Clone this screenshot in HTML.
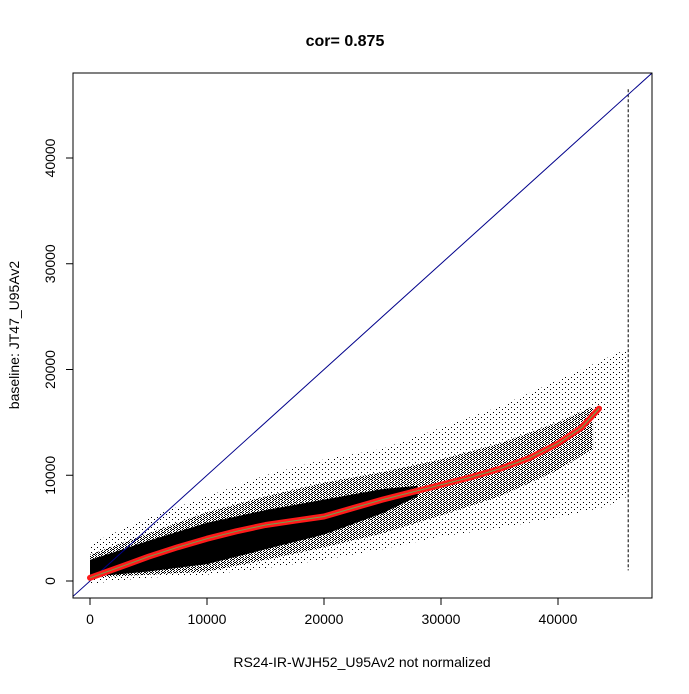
<!DOCTYPE html>
<html><head><meta charset="utf-8"><style>
html,body{margin:0;padding:0;background:#fff;}
svg text{font-family:"Liberation Sans",Arial,sans-serif;}
</style></head><body>
<svg id="chart" width="689" height="689" viewBox="0 0 689 689" xmlns="http://www.w3.org/2000/svg">
<defs>
<pattern id="sparse" width="6" height="5" patternUnits="userSpaceOnUse"><rect x="1" y="2" width="1" height="1" fill="#000"/><rect x="4" y="4" width="1" height="1" fill="#000"/></pattern>
<pattern id="medium" width="3" height="2" patternUnits="userSpaceOnUse"><rect x="0" y="0" width="1" height="1" fill="#000"/><rect x="2" y="1" width="1" height="1" fill="#000"/></pattern>
<clipPath id="plotclip"><rect x="73" y="73" width="579" height="525"/></clipPath>
</defs>
<rect x="0" y="0" width="689" height="689" fill="#fff"/>
<text x="345" y="46" text-anchor="middle" font-size="16" font-weight="bold">cor= 0.875</text>
<g id="marks" clip-path="url(#plotclip)"></g>
<g id="axes"></g>
<rect x="73" y="73" width="579" height="525" fill="none" stroke="#000" stroke-width="1"/>
<text x="362" y="667" text-anchor="middle" font-size="14">RS24-IR-WJH52_U95Av2 not normalized</text>
<text transform="translate(19,335) rotate(-90)" text-anchor="middle" font-size="14">baseline: JT47_U95Av2</text>
</svg>
<script>
const sparseX = [0, 2000, 5000, 10000, 15000, 20000, 25000, 30000, 35000, 40000, 44000, 46000];
const sparseLow = [-300, 0, 300, 600, 1200, 2000, 3000, 4200, 5000, 6000, 7000, 8000];
const sparseHigh = [3500, 4500, 6000, 8000, 10000, 11500, 12500, 14500, 16500, 19000, 21000, 22000];
const mediumX = [0, 5000, 10000, 15000, 20000, 25000, 30000, 35000, 40000, 43000];
const mediumLow = [300, 600, 900, 2000, 3200, 4500, 6200, 8000, 10500, 12500];
const mediumHigh = [2500, 4500, 6500, 8000, 9300, 10300, 11500, 13000, 15000, 16500];
const denseX = [0, 2000, 5000, 10000, 15000, 20000, 25000, 28000];
const denseLow = [400, 600, 900, 1600, 3000, 4400, 6400, 8000];
const denseHigh = [2000, 2700, 3800, 5500, 6700, 7700, 8700, 9000];
const loessX = [0, 2500, 5000, 7500, 10000, 12500, 15000, 17500, 20000, 22500, 25000, 27500, 30000, 32500, 35000, 37500, 40000, 42000, 43500];
const loessY = [300, 1300, 2300, 3200, 4000, 4700, 5300, 5700, 6100, 6900, 7700, 8400, 9100, 9800, 10600, 11600, 13000, 14500, 16300];
const xTicks = [0, 10000, 20000, 30000, 40000];
const yTicks = [0, 10000, 20000, 30000, 40000];
const vertLineX = 46000, vertLineLow = 1000, vertLineHigh = 46500;

const sx = v => 90 + v * 0.0117;
const sy = v => 581 - v * 0.010575;
const NS = "http://www.w3.org/2000/svg";
const marks = document.getElementById('marks');
const axes = document.getElementById('axes');
function mk(tag, attrs, parent){const e=document.createElementNS(NS,tag);for(const k in attrs)e.setAttribute(k,attrs[k]);parent.appendChild(e);return e;}
function band(xs, lo, hi){
  let d = xs.map((x,i)=>(i?'L':'M')+sx(x).toFixed(1)+','+sy(hi[i]).toFixed(1)).join('');
  for(let i=xs.length-1;i>=0;i--) d+='L'+sx(xs[i]).toFixed(1)+','+sy(lo[i]).toFixed(1);
  return d+'Z';
}
const sp = mk('path',{d:band(sparseX,sparseLow,sparseHigh),fill:'url(#sparse)'},marks);


const md = mk('path',{d:band(mediumX,mediumLow,mediumHigh),fill:'url(#medium)'},marks);


const dn = mk('path',{d:band(denseX,denseLow,denseHigh),fill:'#000'},marks);


const vl = mk('line',{x1:sx(vertLineX),x2:sx(vertLineX),y1:sy(vertLineHigh),y2:sy(vertLineLow),stroke:'#000','stroke-width':1,'stroke-dasharray':'3 2'},marks);


const diag = mk('line',{x1:sx(-2000),y1:sy(-2000),x2:sx(60000),y2:sy(60000),stroke:'#00008b','stroke-width':1},marks);


const ld = loessX.map((x,i)=>(i?'L':'M')+sx(x).toFixed(1)+','+sy(loessY[i]).toFixed(1)).join('');
const red = mk('path',{d:ld,fill:'none',stroke:'#ff1a1a','stroke-width':6,'stroke-linejoin':'round','stroke-linecap':'round'},marks);


const grn = mk('path',{d:ld,fill:'none',stroke:'#6aa84f','stroke-width':1},marks);


xTicks.forEach(t=>{
  const l = mk('line',{x1:sx(t),x2:sx(t),y1:598,y2:605,stroke:'#000'},axes);
  
  
  const tx = mk('text',{x:sx(t),y:624,'text-anchor':'middle','font-size':14},axes);
  tx.textContent = t;
  
  
});
yTicks.forEach(t=>{
  const l = mk('line',{x1:66,x2:73,y1:sy(t),y2:sy(t),stroke:'#000'},axes);
  
  
  const tx = mk('text',{transform:`translate(55,${sy(t)}) rotate(-90)`,'text-anchor':'middle','font-size':14},axes);
  tx.textContent = t;
  
  
});
</script>
</body></html>
